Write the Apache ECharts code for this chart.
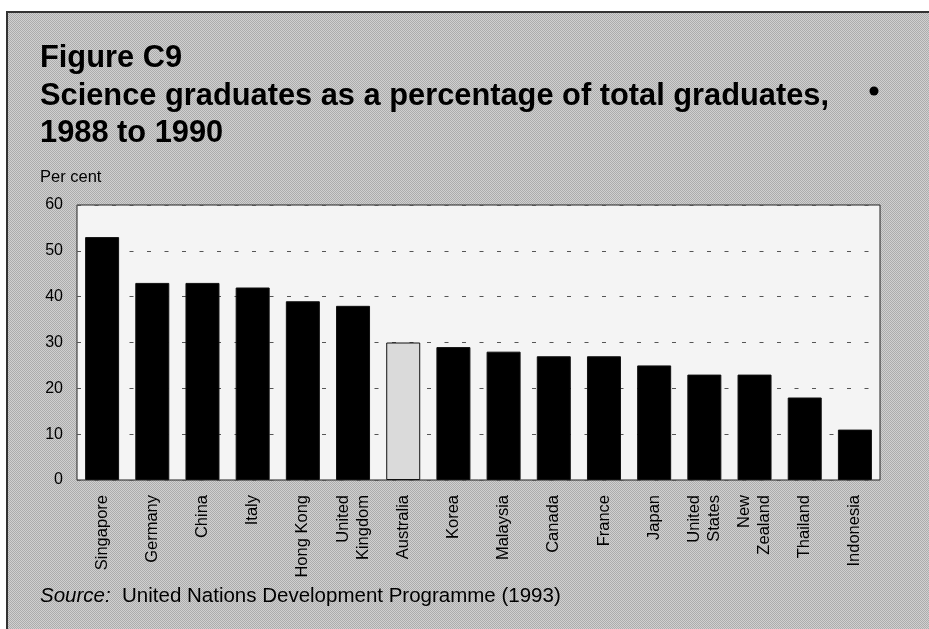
<!DOCTYPE html>
<html>
<head>
<meta charset="utf-8">
<title>Figure C9</title>
<script src="https://cdn.jsdelivr.net/npm/echarts@6/dist/echarts.min.js"></script>
<style>
  html, body { margin: 0; padding: 0; background: #fff; }
  #chart { width: 929px; height: 629px; }
</style>
</head>
<body>
<div id="chart"></div>
<script>
// Science graduates as a share of all graduates, 1988-1990
const countries = ['Singapore', 'Germany', 'China', 'Italy', 'Hong Kong', 'United\nKingdom',
  'Australia', 'Korea', 'Malaysia', 'Canada', 'France', 'Japan', 'United\nStates',
  'New\nZealand', 'Thailand', 'Indonesia'];
const sciencePct = [53, 43, 43, 42, 39, 38, 30, 29, 28, 27, 27, 25, 23, 23, 18, 11];
const highlighted = 'Australia';
const yMin = 0, yMax = 60, yStep = 10;

const FONT = "'Liberation Sans', Arial, Helvetica, sans-serif";

// Dithered grey tile for the panel behind the chart
function ditherTile() {
  const c = document.createElement('canvas');
  c.width = 2; c.height = 2;
  const g = c.getContext('2d');
  g.fillStyle = '#d0d0d0'; g.fillRect(0, 0, 2, 2);
  g.fillStyle = '#acacac'; g.fillRect(0, 0, 1, 1); g.fillRect(1, 1, 1, 1);
  return c;
}

const barData = sciencePct.map((v, i) =>
  countries[i] === highlighted
    ? { value: v, itemStyle: { color: '#dadada' } }
    : v
);

const chart = echarts.init(document.getElementById('chart'), null, { renderer: 'canvas' });

chart.setOption({
  backgroundColor: '#ffffff',
  animation: false,
  textStyle: { fontFamily: FONT },
  graphic: [
    {
      type: 'rect',
      z: -10,
      shape: { x: 7, y: 12, width: 940, height: 640 },
      style: { fill: { image: ditherTile(), repeat: 'repeat' }, stroke: '#333', lineWidth: 2 }
    },
    {
      type: 'circle',
      z: 10,
      shape: { cx: 874, cy: 91, r: 4.5 },
      style: { fill: '#000' }
    }
  ],
  title: [
    {
      text: 'Figure C9\nScience graduates as a percentage of total graduates,\n1988 to 1990',
      left: 40,
      top: 40,
      padding: 0,
      textStyle: {
        fontFamily: FONT, fontSize: 30.8, fontWeight: 'bold', color: '#000', lineHeight: 37.5
      }
    },
    {
      text: 'Per cent',
      left: 40,
      top: 169,
      padding: 0,
      textStyle: { fontFamily: FONT, fontSize: 16.5, fontWeight: 'normal', color: '#000', lineHeight: 16 }
    },
    {
      text: '{i|Source:}  United Nations Development Programme (1993)',
      left: 40,
      top: 586,
      padding: 0,
      textStyle: {
        fontFamily: FONT, fontSize: 20.5, fontWeight: 'normal', color: '#000', lineHeight: 20,
        rich: {
          i: { fontFamily: FONT, fontSize: 20.5, fontStyle: 'italic', color: '#000', lineHeight: 20 }
        }
      }
    }
  ],
  grid: {
    left: 77, right: 49, top: 205, bottom: 149,
    show: true,
    backgroundColor: '#f4f4f4',
    borderColor: '#222',
    borderWidth: 1
  },
  xAxis: {
    type: 'category',
    data: countries,
    axisLine: { show: false },
    axisTick: { show: false },
    axisLabel: {
      interval: 0,
      rotate: 90,
      margin: 15,
      fontFamily: FONT,
      fontSize: 16.5,
      lineHeight: 20,
      color: '#000'
    }
  },
  yAxis: {
    type: 'value',
    min: yMin,
    max: yMax,
    interval: yStep,
    axisLine: { show: false },
    axisTick: { show: false },
    axisLabel: { margin: 14, fontFamily: FONT, fontSize: 16, color: '#000' },
    splitLine: {
      show: true,
      lineStyle: { color: '#555', width: 1, type: [4, 13.5] }
    }
  },
  series: [{
    type: 'bar',
    data: barData,
    barWidth: 34,
    itemStyle: { color: '#000', borderColor: '#111', borderWidth: 1 },
    z: 3
  }]
});
</script>
</body>
</html>
